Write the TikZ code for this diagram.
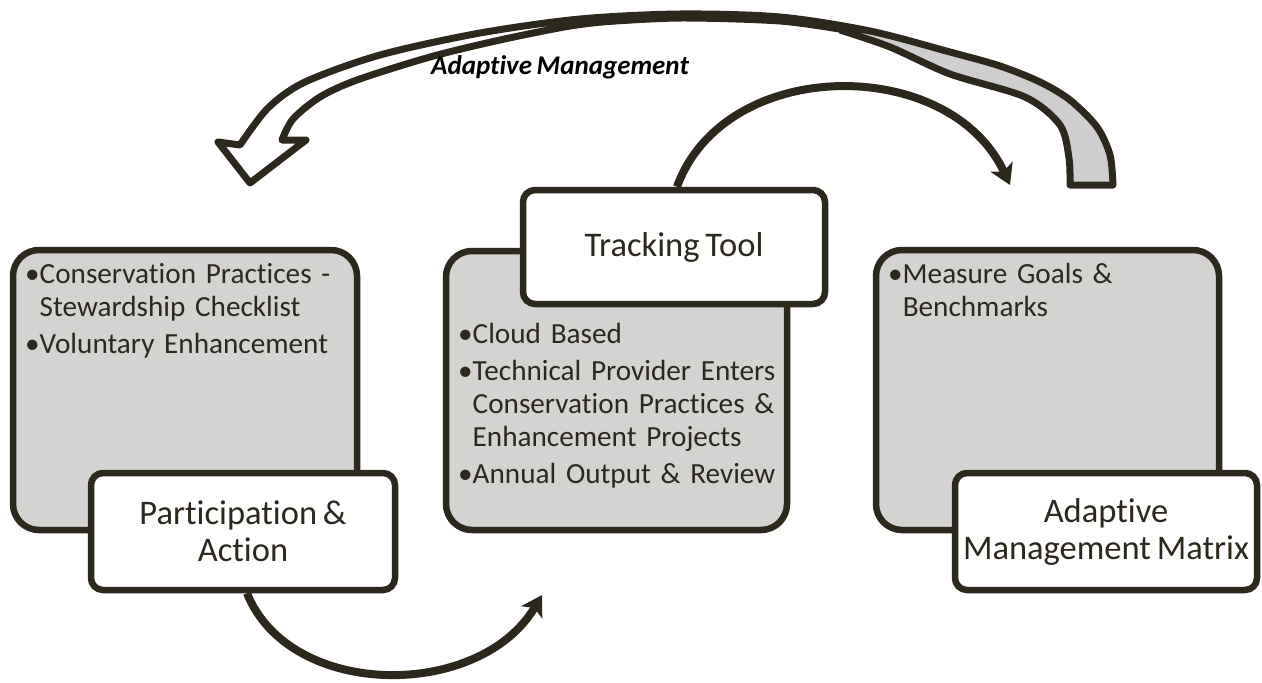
\documentclass[tikz,border=0pt]{standalone}
\usepackage{fontspec}
\setmainfont{Carlito}[Ligatures=NoCommon,WordSpace=0.75]
\usetikzlibrary{arrows.meta,calc}
\definecolor{ink}{RGB}{45,40,30}
\definecolor{boxgray}{RGB}{211,211,209}
\definecolor{tailgray}{RGB}{206,206,206}
\newcommand\bitem[1]{\parskip=4pt\relax\setbox0\hbox{•}\hangindent\wd0\hangafter1\noindent\copy0#1\par}
\begin{document}
\begin{tikzpicture}[x=1pt,y=-1pt,
  graybox/.style={draw=ink, fill=boxgray, line width=6.5pt, rounded corners=26pt, inner sep=0pt},
  whitebox/.style={draw=ink, fill=white, line width=6.5pt, rounded corners=12pt, align=center, inner sep=0pt, font=\fontsize{34.5}{37}\selectfont, text=ink},
  bullets/.style={text width=345pt, align=left, inner sep=0pt, anchor=base west, font=\fontsize{29.2}{33}\selectfont, text=ink},
  conn/.style={draw=ink, line width=8pt, -{Stealth[length=20pt,width=24pt,inset=5pt]}},
  band/.style={draw=ink, line width=7pt, line join=round},
  title/.style={font=\fontsize{27}{30}\selectfont\bfseries\itshape, anchor=base, inner sep=0pt}
]
\useasboundingbox (0,0) rectangle (1262,683);

% big curved block arrow (adaptive management loop)
\fill[white] plot[smooth] coordinates {(240,145) (268,108) (305,82) (380,55) (480,33) (580,19) (620,16.5)}
  -- plot[smooth] coordinates {(620,20) (570,26) (500,40) (430,57) (357,80) (320,97) (293,119) (282,140)}
  -- (306,140) -- (250,183) -- (218,142) -- cycle;
\fill[tailgray] plot[smooth] coordinates {(840,26) (870,31) (950,52) (1000,66) (1040,82) (1070,100) (1097,127) (1110,155) (1113,185)}
  -- (1070,185)
  -- plot[smooth] coordinates {(1070,185) (1069,158) (1060,125) (1025,97) (950,74) (890,47) (840,30)} -- cycle;
\draw[band] plot[smooth] coordinates {(620,20) (570,26) (500,40) (430,57) (357,80) (320,97) (293,119) (282,140)}
  -- (306,140) -- (250,183) -- (218,142)
  -- plot[smooth] coordinates {(240,145) (268,108) (305,82) (380,55) (480,33) (580,19) (680,14) (780,17) (870,31) (950,52) (1000,66) (1040,82) (1070,100) (1097,127) (1110,155) (1113,185)}
  -- (1070,185)
  -- plot[smooth] coordinates {(1070,185) (1069,158) (1060,125) (1025,97) (950,74) (890,47) (840,30)};
\draw[band] plot[smooth] coordinates {(600,22) (680,18) (780,21) (845,30)};
\node[title] (am) at (560,74) {Adaptive Management};

% gray content boxes
\node[graybox, minimum width=344pt, minimum height=280pt] (g1) at (185,390) {};
\node[graybox, minimum width=341pt, minimum height=279pt] (g2) at (616.5,390.5) {};
\node[graybox, minimum width=343pt, minimum height=280pt] (g3) at (1047.5,390) {};

\node[bullets] (t1) at (25,283) {\bitem{Conservation Practices -\newline Stewardship Checklist}\bitem{Voluntary Enhancement}};
\node[bullets] (t2) at (458,343) {\bitem{Cloud Based}\bitem{Technical Provider Enters\newline Conservation Practices \&\newline Enhancement Projects}\bitem{Annual Output \& Review}};
\node[bullets] (t3) at (888,283) {\bitem{Measure Goals \&\newline Benchmarks}};

% white title boxes
\node[whitebox, minimum width=304pt, minimum height=117pt] (pa) at (243,531.5) {Participation \&\\Action};
\node[whitebox, minimum width=302pt, minimum height=114pt] (tt) at (674,247) {Tracking Tool};
\node[whitebox, minimum width=302pt, minimum height=117pt] (am2) at (1106,531.5) {Adaptive\\Management Matrix};

% connectors
\coordinate (e1) at (542,595);
\coordinate (e2) at (1010,185);
\draw[conn] ([xshift=4pt]pa.south) .. controls (290,700) and (480,700) .. (e1);
\draw[conn] ([xshift=3pt]tt.north) .. controls (725,55) and (950,55) .. (e2);
\end{tikzpicture}
\end{document}
